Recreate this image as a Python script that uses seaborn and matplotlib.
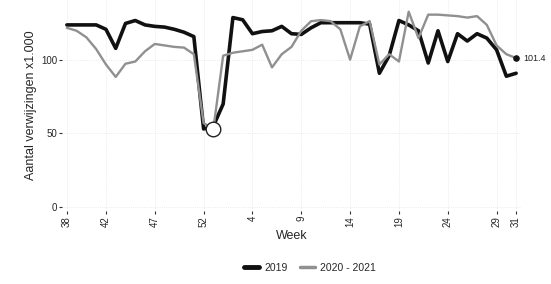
import numpy as np
import pandas as pd
import matplotlib
matplotlib.use("Agg")
import matplotlib.pyplot as plt
import seaborn as sns

# Weeks 38-53 (2020) followed by weeks 1-31
weeks = list(range(38, 54)) + list(range(1, 32))

vals_2019 = [124, 124, 124, 124, 121, 108, 125, 127, 124, 123,
             122.5, 121, 119, 116, 53, 55, 70, 129, 127.5, 118,
             119.5, 120, 123, 118, 117.5, 122, 125.5, 125.5, 125.5, 125.5,
             125.5, 124.5, 91, 103, 127, 124, 120, 98, 120, 99,
             118, 113, 118, 115, 107, 89, 91]

vals_2020 = [122, 120, 115.5, 107.5, 97, 88.5, 97.5, 99, 106, 111,
             110, 109, 108.5, 104, 57, 53, 103, 105, 106, 107,
             110.5, 95, 104, 109, 120, 126.5, 127.3, 126.6, 121, 100.3,
             123, 126.6, 97, 104, 99, 133, 115, 131, 131, 130.5,
             130, 129, 130, 124, 110, 104, 101.4]

tick_weeks = [38, 42, 47, 52, 4, 9, 14, 19, 24, 29, 31]
series_names = ["2019", "2020 - 2021"]

pos = np.arange(len(weeks))
df = pd.DataFrame({
    "pos": np.concatenate([pos, pos]),
    "waarde": vals_2019 + vals_2020,
    "reeks": [series_names[0]] * len(weeks) + [series_names[1]] * len(weeks),
})

sns.set_theme(style="white")
plt.rcParams['font.family'] = ['Liberation Sans', 'DejaVu Sans']

fig = plt.figure(figsize=(5.51, 2.84), dpi=100)
ax = fig.add_axes([62 / 551, 73 / 284, (521 - 62) / 551, 211 / 284])

sns.lineplot(data=df, x="pos", y="waarde", hue="reeks", size="reeks",
             palette={"2019": "#111111", "2020 - 2021": "#909090"},
             sizes={"2019": 2.6, "2020 - 2021": 1.7},
             ax=ax, legend=False)

# lowest point marker and end label
low_idx = int(np.argmin(vals_2020))
ax.scatter([pos[low_idx]], [vals_2020[low_idx]], s=110, facecolor="white",
           edgecolor="#222222", linewidth=1.0, zorder=5)
ax.scatter([pos[-1]], [vals_2020[-1]], s=14, color="#111111", zorder=5)
ax.text(pos[-1] + 0.7, vals_2020[-1], f"{vals_2020[-1]}", fontsize=6.5,
        va="center", ha="left", color="#222222")

ax.set_xlim(-0.5, 46.5)
ax.set_ylim(-3, 141)
ax.set_yticks([0, 50, 100])
ax.set_xticks([weeks.index(w) for w in tick_weeks])
ax.set_xticklabels([str(w) for w in tick_weeks], rotation=90)
ax.tick_params(axis="both", labelsize=7, length=2.5, width=0.8,
               color="#333333", pad=1, bottom=True, left=True)
ax.set_xlabel("Week", fontsize=9, labelpad=2)
ax.set_ylabel("Aantal verwijzingen x1.000", fontsize=9, labelpad=3)
ax.grid(True, linestyle=":", color="#e4e4e4", linewidth=0.6)
for s in ax.spines.values():
    s.set_visible(False)

handles = [plt.Line2D([], [], color="#111111", lw=3.5),
           plt.Line2D([], [], color="#909090", lw=2.5)]
fig.legend(handles, series_names, loc="center", bbox_to_anchor=(310 / 551, 1 - 268 / 284),
           ncol=2, frameon=False, fontsize=7.5, handlelength=1.4,
           columnspacing=1.2, handletextpad=0.5)

fig.savefig("out.png", dpi=100)
